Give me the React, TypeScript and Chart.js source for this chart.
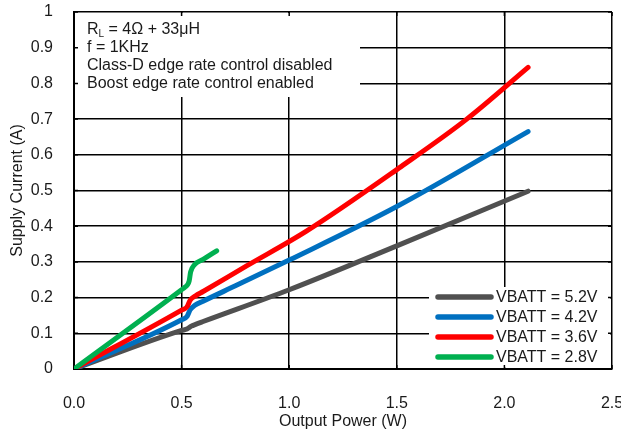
import React, { useEffect, useRef } from "react";
import { Chart, registerables } from "chart.js";

Chart.register(...registerables);

// ---- data ----
const seriesLabels = ["VBATT = 5.2V", "VBATT = 4.2V", "VBATT = 3.6V", "VBATT = 2.8V"];
const seriesColors = ["#505050", "#0070C0", "#FF0000", "#00B050"];

const pow52 = [0, 0.5, 0.525, 0.545, 0.565, 0.6, 1.0, 1.5, 2.11];
const cur52 = [0, 0.108, 0.112, 0.12, 0.125, 0.133, 0.222, 0.345, 0.498];

const pow42 = [0, 0.5, 0.525, 0.54, 0.56, 0.6, 0.75, 1.0, 1.5, 2.11];
const cur42 = [0, 0.138, 0.147, 0.166, 0.178, 0.19, 0.233, 0.305, 0.455, 0.665];

const pow36 = [0, 0.5, 0.525, 0.54, 0.565, 0.6, 0.8, 1.08, 1.52, 1.825, 2.11];
const cur36 = [0, 0.165, 0.174, 0.193, 0.205, 0.217, 0.288, 0.386, 0.567, 0.7, 0.845];

const pow28 = [0, 0.5, 0.515, 0.535, 0.542, 0.56, 0.6, 0.663];
const cur28 = [0, 0.222, 0.229, 0.246, 0.272, 0.292, 0.307, 0.331];

const xTickLabels = ["0.0", "0.5", "1.0", "1.5", "2.0", "2.5"];
const yTickLabels = ["0", "0.1", "0.2", "0.3", "0.4", "0.5", "0.6", "0.7", "0.8", "0.9", "1"];

const xTitle = "Output Power (W)";
const yTitle = "Supply Current (A)";

const noteFirstMain = "R";
const noteFirstSub = "L";
const noteFirstRest = " = 4Ω + 33μH";
const noteLines = ["f = 1KHz", "Class-D edge rate control disabled", "Boost edge rate control enabled"];

const FONT = "'Liberation Sans', Arial, Helvetica, sans-serif";

const toPoints = (xs: number[], ys: number[]) => xs.map((x, i) => ({ x, y: ys[i] }));

const overlayPlugin = {
  id: "overlayBoxes",
  beforeDatasetsDraw(chart: any) {
    const ctx = chart.ctx;
    const xs = chart.scales.x;
    const ys = chart.scales.y;
    const area = chart.chartArea;
    ctx.save();
    // annotation box (covers grid)
    const annL = area.left + 1;
    const annT = area.top + 1;
    const annR = 360;
    const annB = 97;
    ctx.fillStyle = "#ffffff";
    ctx.fillRect(annL, annT, annR - annL, annB - annT);
    // legend box
    const legL = 429;
    const legT = 287;
    const legR = area.right - 2;
    const legB = area.bottom - 1.5;
    ctx.fillRect(legL, legT, legR - legL, legB - legT);

    // inward tick marks
    ctx.strokeStyle = "#000";
    ctx.lineWidth = 1.5;
    ctx.beginPath();
    ys.ticks.forEach((t: any) => {
      const py = ys.getPixelForValue(t.value);
      ctx.moveTo(area.left, py);
      ctx.lineTo(area.left + 4, py);
      ctx.moveTo(area.right, py);
      ctx.lineTo(area.right - 4, py);
    });
    xs.ticks.forEach((t: any) => {
      const px = xs.getPixelForValue(t.value);
      ctx.moveTo(px, area.bottom);
      ctx.lineTo(px, area.bottom - 4);
      ctx.moveTo(px, area.top);
      ctx.lineTo(px, area.top + 4);
    });
    ctx.stroke();

    // annotation text
    ctx.fillStyle = "#1a1a1a";
    ctx.textBaseline = "middle";
    ctx.textAlign = "left";
    ctx.font = `16px ${FONT}`;
    const tx = 87;
    const y0 = 30;
    ctx.fillText(noteFirstMain, tx, y0);
    const rw = ctx.measureText(noteFirstMain).width;
    ctx.font = `10px ${FONT}`;
    ctx.fillText(noteFirstSub, tx + rw, y0 + 4);
    const lw = ctx.measureText(noteFirstSub).width;
    ctx.font = `16px ${FONT}`;
    ctx.fillText(noteFirstRest, tx + rw + lw, y0);
    noteLines.forEach((s, i) => {
      ctx.fillText(s, tx, y0 + 18 * (i + 1));
    });

    // legend
    const ds = chart.data.datasets;
    ds.forEach((d: any, i: number) => {
      const cy = 297 + 20 * i;
      ctx.strokeStyle = d.borderColor;
      ctx.lineWidth = 5.5;
      ctx.lineCap = "round";
      ctx.beginPath();
      ctx.moveTo(438, cy);
      ctx.lineTo(491, cy);
      ctx.stroke();
      ctx.fillStyle = "#1a1a1a";
      ctx.font = `16px ${FONT}`;
      ctx.fillText(d.label, 496, cy + 1);
    });
    ctx.restore();
  },
};

export default function App() {
  const ref = useRef<HTMLCanvasElement | null>(null);

  useEffect(() => {
    if (!ref.current) return;
    const series = [
      toPoints(pow52, cur52),
      toPoints(pow42, cur42),
      toPoints(pow36, cur36),
      toPoints(pow28, cur28),
    ];
    const chart = new Chart(ref.current, {
      type: "line",
      data: {
        datasets: series.map((pts, i) => ({
          label: seriesLabels[i],
          data: pts,
          borderColor: seriesColors[i],
          backgroundColor: seriesColors[i],
          borderWidth: 5,
          pointRadius: 0,
          borderCapStyle: "round",
          borderJoinStyle: "round",
          cubicInterpolationMode: "monotone",
          fill: false,
          order: 4 - i,
        })),
      },
      options: {
        animation: false,
        responsive: false,
        layout: { padding: { top: 12, right: 9, left: 0, bottom: 0 } },
        plugins: {
          legend: { display: false },
          tooltip: { enabled: false },
        },
        scales: {
          x: {
            type: "linear",
            min: 0,
            max: 2.5,
            ticks: {
              stepSize: 0.5,
              padding: 25,
              color: "#1a1a1a",
              font: { family: FONT, size: 16 },
              maxRotation: 0,
              callback: (_v: any, i: number) => xTickLabels[i],
            },
            grid: { color: "#000", lineWidth: 1.5, drawTicks: false },
            border: { color: "#000", width: 2 },
            title: {
              display: true,
              text: xTitle,
              color: "#1a1a1a",
              font: { family: FONT, size: 16 },
              padding: { top: 0, bottom: 2 },
            },
            afterFit: (s: any) => {
              s.height = 64;
              s.paddingLeft = 0;
              s.paddingRight = 0;
            },
          },
          y: {
            type: "linear",
            min: 0,
            max: 1,
            ticks: {
              stepSize: 0.1,
              padding: 21,
              color: "#1a1a1a",
              font: { family: FONT, size: 16 },
              callback: (_v: any, i: number) => yTickLabels[i],
            },
            grid: { color: "#000", lineWidth: 1.5, drawTicks: false },
            border: { color: "#000", width: 2 },
            title: {
              display: true,
              text: yTitle,
              color: "#1a1a1a",
              font: { family: FONT, size: 16 },
              padding: { top: 8, bottom: 0 },
            },
            afterFit: (s: any) => {
              s.width = 74;
              s.paddingTop = 0;
              s.paddingBottom = 0;
            },
          },
        },
      },
      plugins: [overlayPlugin],
    } as any);
    return () => chart.destroy();
  }, []);

  return (
    <div style={{ position: "fixed", left: 0, top: 0, width: 621, height: 433, background: "#fff" }}>
      <canvas ref={ref} width={621} height={433} style={{ display: "block" }} />
    </div>
  );
}
